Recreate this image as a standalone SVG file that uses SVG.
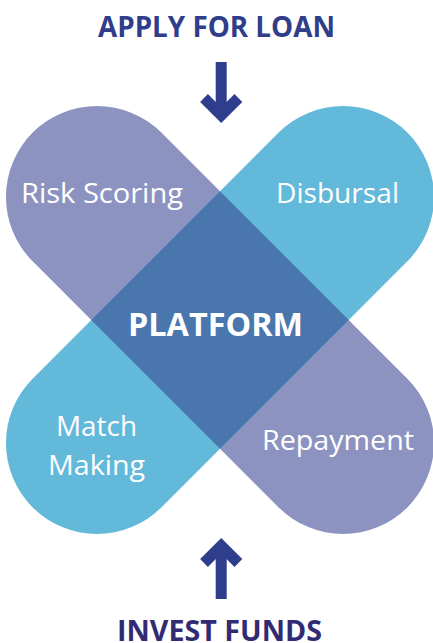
<svg xmlns="http://www.w3.org/2000/svg" width="433" height="643" viewBox="0 0 433 643">
  <style>
    .lbl { font-family: "Open Sans", "Noto Sans", sans-serif; font-size: 28px; fill: #ffffff; text-anchor: middle; }
    .title { font-family: "Open Sans", "Noto Sans", sans-serif; font-size: 28px; font-weight: 700; text-anchor: middle; }
    .arrow { fill: none; stroke: #2f3e8c; stroke-width: 11; stroke-linejoin: miter; stroke-linecap: butt; }
  </style>
  <rect width="433" height="643" fill="#ffffff"/>
  <g id="bar-purple">
    <rect x="-45" y="229" width="530" height="182" rx="91" ry="91" fill="#8d93c1" transform="rotate(45 220 320)"/>
  </g>
  <g id="bar-blue">
    <rect x="-45" y="229" width="530" height="182" rx="91" ry="91" fill="#63b9da" transform="rotate(-45 220 320)"/>
  </g>
  <g id="platform">
    <polygon points="220,191.3 348.7,320 220,448.7 91.3,320" fill="#4a76ae"/>
    <text class="title" x="215.5" y="336" fill="#ffffff" textLength="175" lengthAdjust="spacingAndGlyphs" style="font-size:32px">PLATFORM</text>
  </g>
  <g id="risk-scoring">
    <text class="lbl" x="102" y="203" textLength="162" lengthAdjust="spacingAndGlyphs">Risk Scoring</text>
  </g>
  <g id="disbursal">
    <text class="lbl" x="337.5" y="203" textLength="123" lengthAdjust="spacingAndGlyphs">Disbursal</text>
  </g>
  <g id="match-making">
    <text class="lbl" x="96.5" y="436" textLength="81" lengthAdjust="spacingAndGlyphs">Match</text>
    <text class="lbl" x="96.5" y="475" textLength="97" lengthAdjust="spacingAndGlyphs">Making</text>
  </g>
  <g id="repayment">
    <text class="lbl" x="338" y="450" textLength="152" lengthAdjust="spacingAndGlyphs">Repayment</text>
  </g>
  <g id="apply-for-loan">
    <text class="title" x="216.5" y="37" fill="#2f3d8a" textLength="237" lengthAdjust="spacingAndGlyphs">APPLY FOR LOAN</text>
  </g>
  <g id="invest-funds">
    <text class="title" x="219.5" y="641" fill="#322b74" textLength="205" lengthAdjust="spacingAndGlyphs">INVEST FUNDS</text>
  </g>
  <g id="connectors">
    <line class="arrow" x1="221.2" y1="62" x2="221.2" y2="114"/>
    <polyline class="arrow" points="204,98 221.2,115.2 238.4,98"/>
    <line class="arrow" x1="221.2" y1="547" x2="221.2" y2="599"/>
    <polyline class="arrow" points="204,563 221.2,545.8 238.4,563"/>
  </g>
</svg>
